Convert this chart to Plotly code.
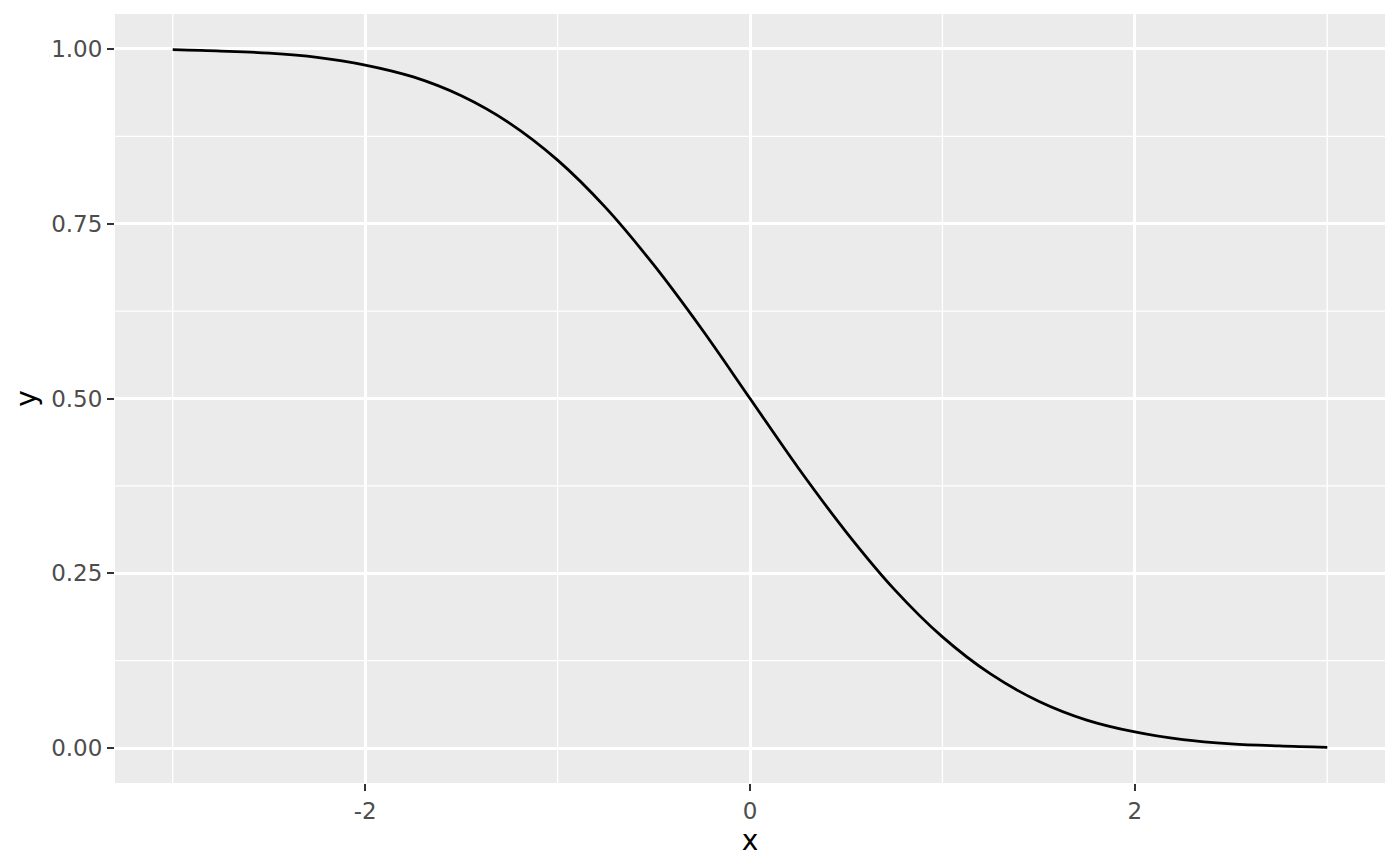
import plotly.graph_objects as go

# curve values (upper tail of a normal-like curve)
x_vals = [-3.0, -2.75, -2.5, -2.25, -2.0, -1.75, -1.5, -1.25, -1.0, -0.75, -0.5, -0.25,
          0.0, 0.25, 0.5, 0.75, 1.0, 1.25, 1.5, 1.75, 2.0, 2.25, 2.5, 2.75, 3.0]
y_vals = [0.999, 0.997, 0.994, 0.988, 0.977, 0.960, 0.933, 0.894, 0.841, 0.773, 0.691, 0.599,
          0.500, 0.401, 0.309, 0.227, 0.159, 0.106, 0.067, 0.040, 0.023, 0.012, 0.006, 0.003, 0.001]

x_ticks = [-2, 0, 2]
x_minor = [-3, -1, 1, 3]
y_ticks = [0.0, 0.25, 0.5, 0.75, 1.0]
y_labels = ["0.00", "0.25", "0.50", "0.75", "1.00"]
y_minor = [0.125, 0.375, 0.625, 0.875]

fig = go.Figure()
fig.add_trace(go.Scatter(x=x_vals, y=y_vals, mode="lines",
                         line=dict(color="black", width=2.8, shape="spline"),
                         showlegend=False, hoverinfo="skip"))

# minor grid lines
for v in x_minor:
    fig.add_shape(type="line", xref="x", yref="paper", x0=v, x1=v, y0=0, y1=1,
                  line=dict(color="white", width=1.3), layer="below")
for v in y_minor:
    fig.add_shape(type="line", xref="paper", yref="y", x0=0, x1=1, y0=v, y1=v,
                  line=dict(color="white", width=1.3), layer="below")

tick_font = dict(family="DejaVu Sans", size=23, color="#4D4D4D")
title_font = dict(family="DejaVu Sans", size=28, color="black")

fig.update_xaxes(range=[-3.3, 3.3], tickvals=x_ticks, ticktext=[str(v) for v in x_ticks],
                 showgrid=True, gridcolor="white", gridwidth=2.6, zeroline=False,
                 ticks="outside", ticklen=7, tickwidth=2.4, tickcolor="#333333",
                 tickfont=tick_font, title=dict(text="x", font=title_font, standoff=2),
                 showline=False)
fig.update_yaxes(range=[-0.05, 1.05], tickvals=y_ticks, ticktext=y_labels,
                 showgrid=True, gridcolor="white", gridwidth=2.6, zeroline=False,
                 ticks="outside", ticklen=7, tickwidth=2.4, tickcolor="#333333",
                 tickfont=tick_font, title=dict(text="y", font=title_font, standoff=6),
                 showline=False)

# page draws the figure 8px in from the corner, so shrink to fit
fig.update_layout(width=1384, height=850, plot_bgcolor="#EBEBEB", paper_bgcolor="white",
                  margin=dict(l=107, r=7, t=6, b=75))

fig.write_html("out.html")
